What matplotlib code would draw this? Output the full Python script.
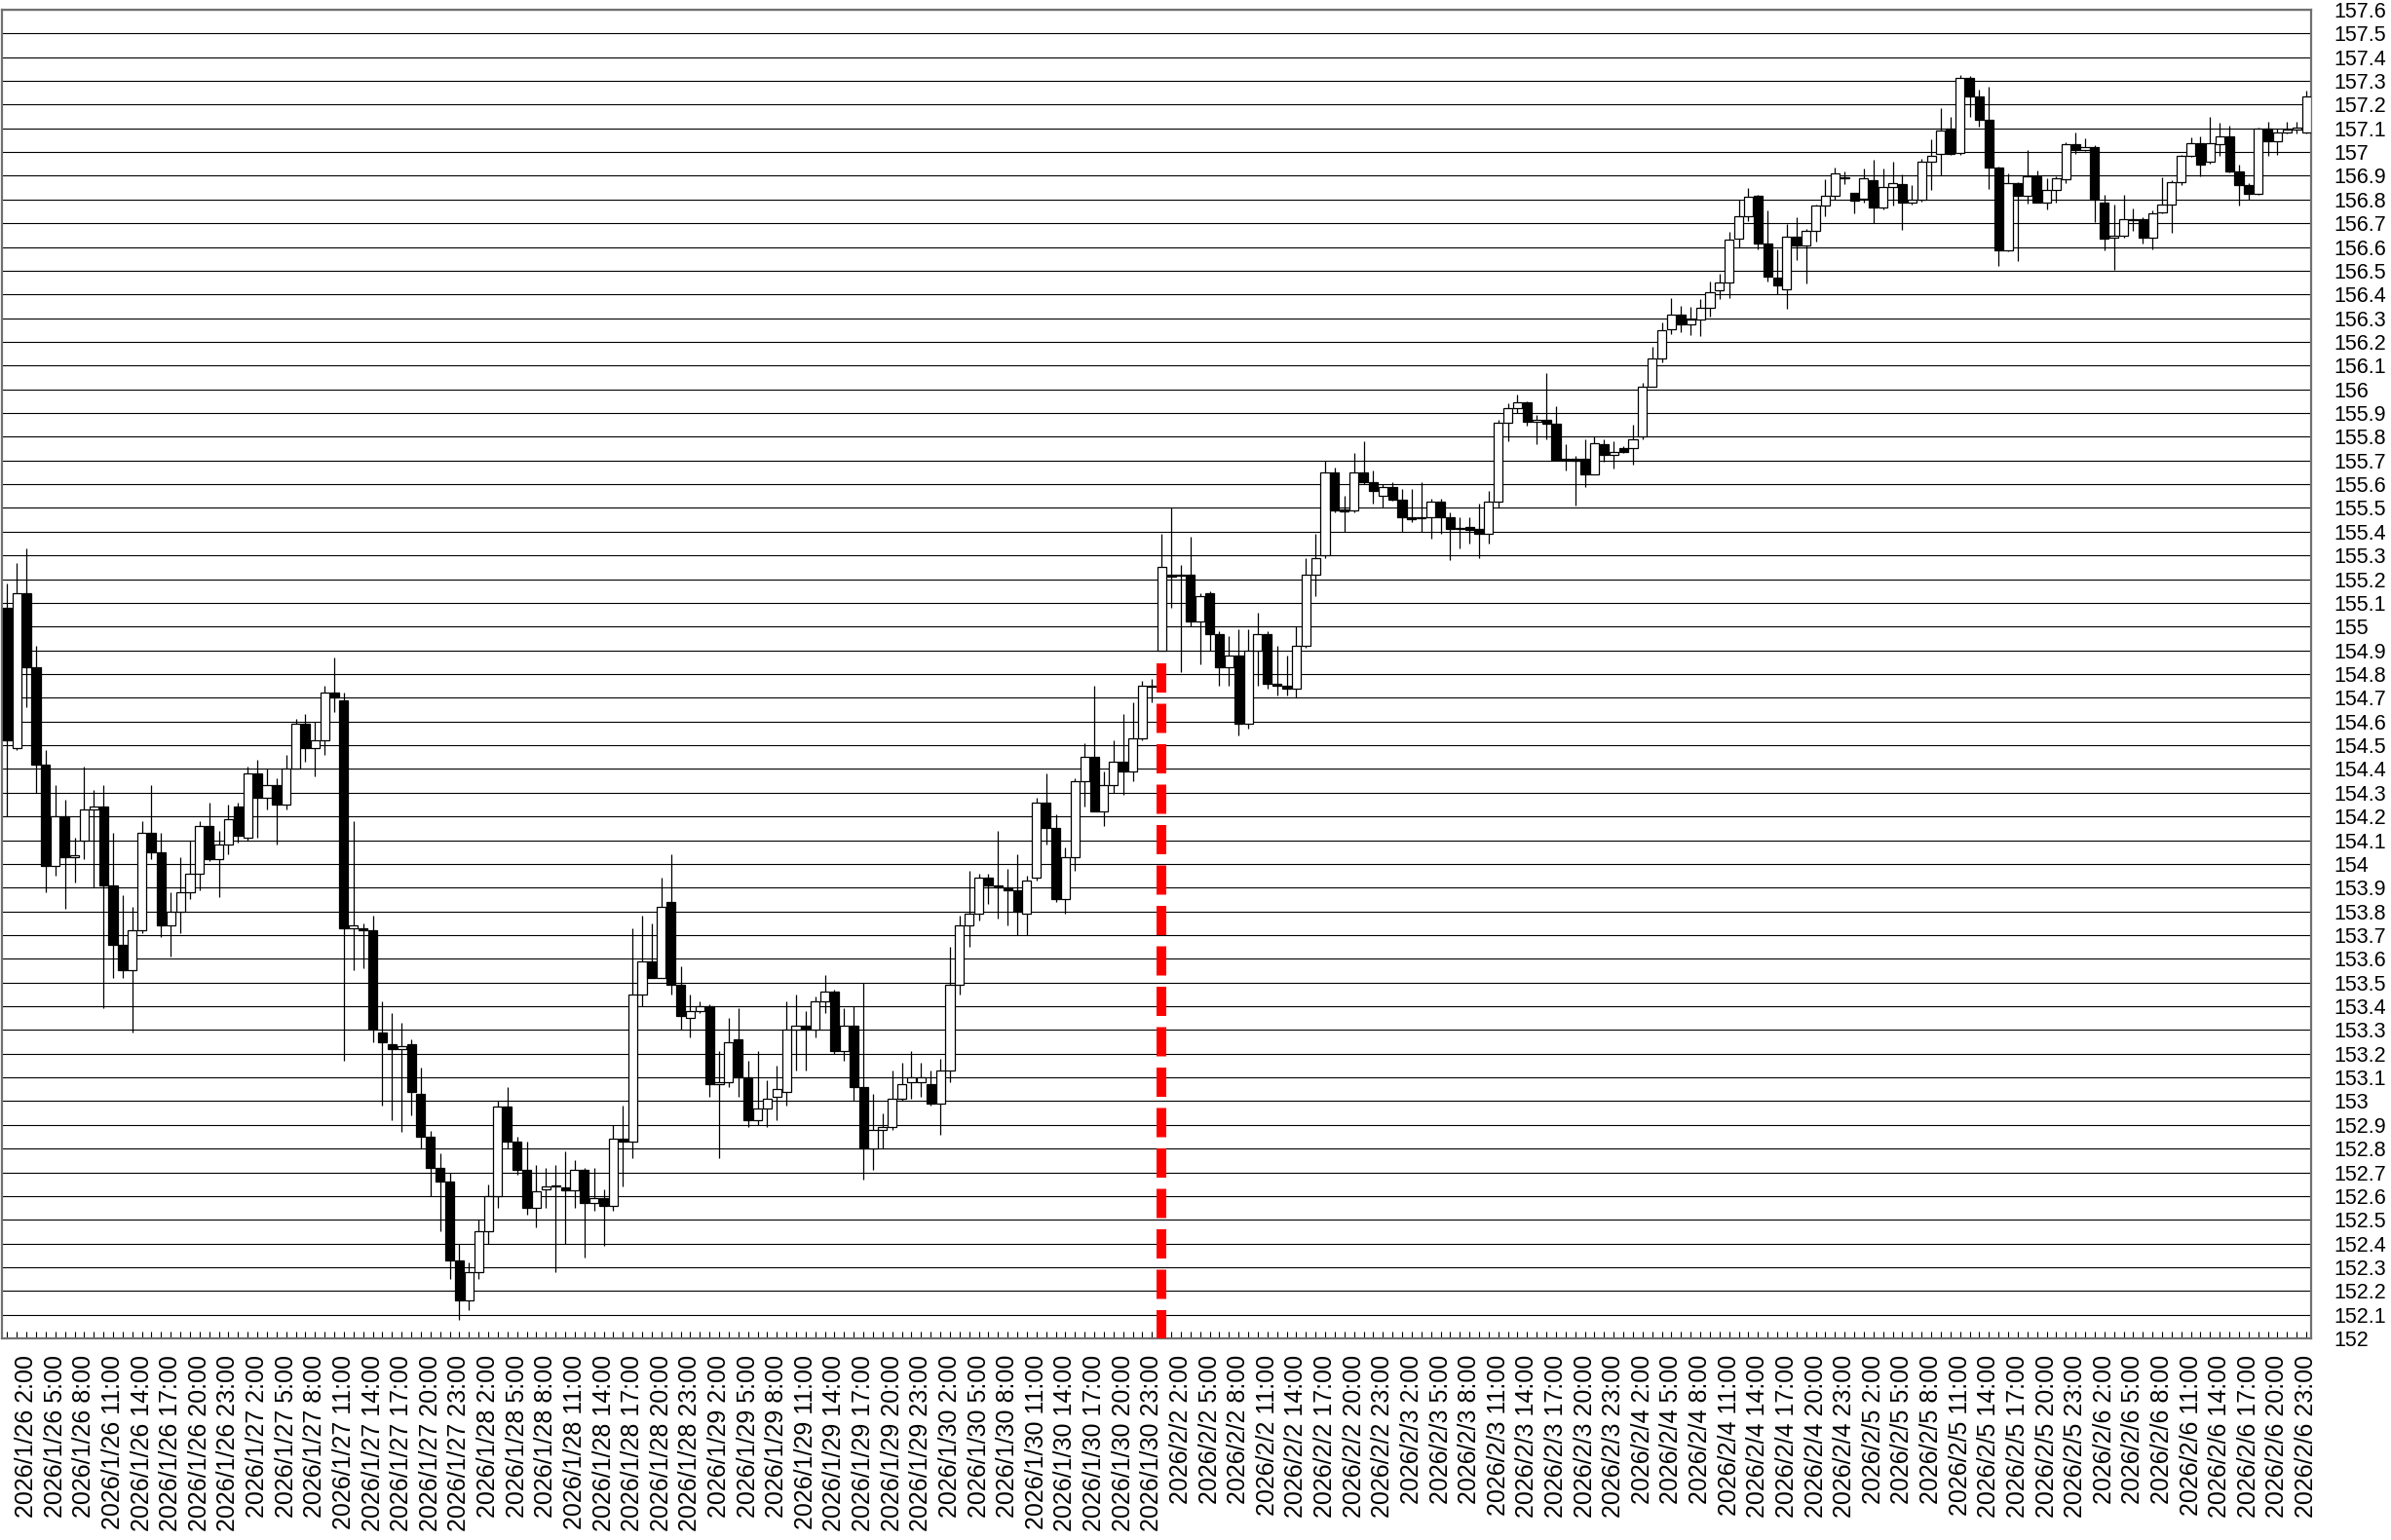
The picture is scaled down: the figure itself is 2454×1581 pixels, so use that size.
import numpy as np
import matplotlib
matplotlib.use('Agg')
import matplotlib.pyplot as plt

plt.rcParams['font.family'] = ['Liberation Sans', 'DejaVu Sans']

# 1時間足 (各日 0:00〜23:00)
days = ['2026/1/26', '2026/1/27', '2026/1/28', '2026/1/29', '2026/1/30',
        '2026/2/2', '2026/2/3', '2026/2/4', '2026/2/5', '2026/2/6']

opens = [
    155.08, 154.49, 155.14, 154.83, 154.42, 153.99, 154.20, 154.03, 154.10, 154.23, 154.24, 153.91,
    153.66, 153.55, 153.72, 154.13, 154.05, 153.74, 153.80, 153.88, 153.96, 154.16, 154.02, 154.08,
    154.24, 154.11, 154.38, 154.28, 154.33, 154.25, 154.40, 154.59, 154.49, 154.52, 154.72, 154.69,
    153.73, 153.73, 153.72, 153.29, 153.24, 153.22, 153.24, 153.03, 152.85, 152.72, 152.66, 152.33,
    152.16, 152.28, 152.45, 152.60, 152.976, 152.83, 152.71, 152.55, 152.63, 152.64, 152.635, 152.625,
    152.71, 152.57, 152.59, 152.56, 152.84, 152.83, 153.45, 153.59, 153.52, 153.84, 153.49, 153.35,
    153.38, 153.40, 153.07, 153.08, 153.26, 153.10, 152.92, 152.97, 153.02, 153.04, 153.30, 153.32,
    153.30, 153.42, 153.46, 153.21, 153.32, 153.06, 152.80, 152.88, 152.89, 153.01, 153.08, 153.08,
    153.07, 152.99, 153.13, 153.49, 153.74, 153.79, 153.94, 153.91, 153.90, 153.89, 153.79, 153.94,
    154.26, 154.15, 153.85, 154.03, 154.35, 154.45, 154.22, 154.33, 154.43, 154.39, 154.53, 154.75,
    154.90, 155.22, 155.215, 155.22, 155.02, 155.14, 154.97, 154.83, 154.88, 154.59, 154.90, 154.97,
    154.76, 154.75, 154.74, 154.92, 155.22, 155.30, 155.65, 155.495, 155.49, 155.65, 155.61, 155.55,
    155.59, 155.535, 155.46, 155.462, 155.46, 155.525, 155.46, 155.41, 155.419, 155.41, 155.39, 155.525,
    155.86, 155.92, 155.944, 155.862, 155.87, 155.855, 155.708, 155.706, 155.706, 155.643, 155.77, 155.722,
    155.752, 155.752, 155.80, 156.012, 156.129, 156.252, 156.313, 156.272, 156.293, 156.343, 156.416, 156.45,
    156.635, 156.73, 156.817, 156.614, 156.471, 156.423, 156.642, 156.607, 156.666, 156.774, 156.815, 156.89,
    156.826, 156.805, 156.88, 156.768, 156.854, 156.867, 156.786, 156.80, 156.96, 156.993, 157.097, 156.996,
    157.314, 157.235, 157.134, 156.935, 156.584, 156.871, 156.816, 156.898, 156.789, 156.839, 156.884, 157.032,
    157.01, 157.023, 156.786, 156.641, 156.648, 156.717, 156.718, 156.639, 156.744, 156.778, 156.873, 156.985,
    157.037, 156.958, 157.034, 157.067, 156.92, 156.862, 156.825, 157.099, 157.047, 157.081, 157.095, 157.081,
]
highs = [
    155.18, 155.27, 155.33, 154.92, 154.48, 154.33, 154.27, 154.11, 154.41, 154.31, 154.33, 154.13,
    153.87, 153.82, 154.18, 154.33, 154.13, 153.88, 154.03, 154.10, 154.18, 154.26, 154.14, 154.25,
    154.26, 154.41, 154.44, 154.40, 154.36, 154.46, 154.61, 154.63, 154.60, 154.75, 154.87, 154.72,
    154.18, 153.75, 153.78, 153.42, 153.37, 153.33, 153.26, 153.14, 152.875, 152.78, 152.70, 152.40,
    152.32, 152.50, 152.65, 153.00, 153.058, 152.85, 152.83, 152.73, 152.72, 152.73, 152.79, 152.75,
    152.72, 152.72, 152.63, 152.90, 152.98, 153.73, 153.78, 153.75, 153.94, 154.04, 153.57, 153.45,
    153.42, 153.41, 153.21, 153.35, 153.39, 153.17, 153.21, 153.09, 153.15, 153.42, 153.45, 153.38,
    153.44, 153.53, 153.47, 153.39, 153.40, 153.50, 153.03, 152.95, 153.13, 153.16, 153.21, 153.16,
    153.13, 153.18, 153.65, 153.78, 153.97, 153.96, 153.96, 154.14, 153.98, 154.04, 153.95, 154.28,
    154.38, 154.21, 154.07, 154.36, 154.51, 154.75, 154.39, 154.52, 154.63, 154.68, 154.77, 154.78,
    155.39, 155.50, 155.26, 155.38, 155.14, 155.15, 154.98, 154.96, 154.99, 154.99, 155.06, 154.98,
    154.92, 154.88, 155.00, 155.29, 155.39, 155.70, 155.67, 155.55, 155.73, 155.78, 155.66, 155.60,
    155.61, 155.58, 155.58, 155.61, 155.54, 155.54, 155.48, 155.46, 155.46, 155.52, 155.57, 155.87,
    155.94, 155.98, 155.95, 155.89, 156.07, 155.93, 155.77, 155.72, 155.79, 155.80, 155.79, 155.78,
    155.76, 155.85, 156.026, 156.18, 156.283, 156.386, 156.352, 156.347, 156.382, 156.453, 156.487, 156.662,
    156.80, 156.85, 156.82, 156.754, 156.59, 156.696, 156.726, 156.676, 156.78, 156.885, 156.936, 156.92,
    156.83, 156.932, 156.969, 156.932, 156.96, 156.908, 156.86, 156.973, 157.055, 157.187, 157.148, 157.325,
    157.32, 157.264, 157.277, 156.94, 156.912, 156.875, 157.007, 156.923, 156.888, 156.898, 157.041, 157.082,
    157.059, 157.03, 156.82, 156.778, 156.819, 156.761, 156.725, 156.755, 156.894, 156.88, 156.99, 157.06,
    157.068, 157.147, 157.122, 157.112, 156.948, 156.87, 157.105, 157.126, 157.099, 157.126, 157.126, 157.259,
]
lows = [
    154.20, 154.48, 154.66, 154.30, 153.88, 153.95, 153.81, 153.92, 154.02, 153.90, 153.39, 153.52,
    153.52, 153.29, 153.71, 154.02, 153.69, 153.61, 153.71, 153.85, 153.89, 154.01, 153.86, 154.04,
    154.09, 154.10, 154.11, 154.23, 154.08, 154.23, 154.40, 154.43, 154.37, 154.46, 154.64, 153.17,
    153.55, 153.56, 153.25, 152.98, 152.92, 152.87, 152.94, 152.80, 152.60, 152.45, 152.25, 152.08,
    152.12, 152.25, 152.40, 152.55, 152.80, 152.69, 152.52, 152.47, 152.55, 152.28, 152.40, 152.55,
    152.34, 152.54, 152.39, 152.54, 152.64, 152.76, 153.40, 153.52, 153.52, 153.45, 153.30, 153.27,
    153.37, 153.02, 152.76, 153.06, 153.02, 152.89, 152.90, 152.89, 152.92, 152.98, 153.13, 153.13,
    153.27, 153.37, 153.20, 153.17, 153.00, 152.67, 152.71, 152.80, 152.88, 153.00, 153.01, 153.02,
    152.98, 152.86, 153.08, 153.45, 153.65, 153.76, 153.83, 153.77, 153.74, 153.70, 153.70, 153.93,
    154.08, 153.84, 153.79, 153.97, 154.24, 154.22, 154.16, 154.30, 154.29, 154.35, 154.52, 154.68,
    154.90, 155.08, 154.81, 155.00, 154.84, 154.90, 154.75, 154.75, 154.54, 154.57, 154.75, 154.74,
    154.71, 154.71, 154.70, 154.91, 155.13, 155.29, 155.48, 155.40, 155.48, 155.60, 155.52, 155.50,
    155.53, 155.40, 155.44, 155.40, 155.37, 155.39, 155.28, 155.33, 155.35, 155.29, 155.35, 155.50,
    155.78, 155.90, 155.845, 155.77, 155.79, 155.70, 155.66, 155.51, 155.59, 155.64, 155.695, 155.666,
    155.73, 155.684, 155.79, 156.01, 156.115, 156.234, 156.242, 156.227, 156.224, 156.306, 156.382, 156.386,
    156.60, 156.707, 156.59, 156.453, 156.402, 156.34, 156.546, 156.447, 156.624, 156.73, 156.80, 156.865,
    156.741, 156.786, 156.70, 156.76, 156.775, 156.673, 156.78, 156.79, 156.84, 156.902, 156.99, 156.99,
    157.15, 157.107, 156.843, 156.519, 156.58, 156.541, 156.782, 156.785, 156.757, 156.785, 156.868, 156.993,
    157.005, 156.703, 156.584, 156.502, 156.64, 156.666, 156.616, 156.588, 156.74, 156.659, 156.86, 156.98,
    156.896, 156.95, 156.982, 156.915, 156.774, 156.80, 156.82, 156.986, 156.989, 157.078, 157.08, 157.078,
]
closes = [
    154.52, 155.14, 154.83, 154.42, 153.99, 154.20, 154.03, 154.035, 154.23, 154.24, 153.91, 153.66,
    153.55, 153.72, 154.13, 154.05, 153.74, 153.80, 153.88, 153.96, 154.16, 154.02, 154.08, 154.19,
    154.12, 154.38, 154.28, 154.33, 154.25, 154.40, 154.59, 154.49, 154.52, 154.72, 154.70, 153.73,
    153.74, 153.72, 153.30, 153.25, 153.22, 153.23, 153.04, 152.85, 152.72, 152.66, 152.33, 152.16,
    152.28, 152.45, 152.60, 152.976, 152.83, 152.71, 152.55, 152.62, 152.64, 152.645, 152.625, 152.71,
    152.57, 152.59, 152.56, 152.84, 152.83, 153.45, 153.59, 153.52, 153.82, 153.49, 153.36, 153.38,
    153.40, 153.07, 153.08, 153.25, 153.10, 152.92, 152.97, 153.01, 153.05, 153.30, 153.32, 153.30,
    153.42, 153.46, 153.21, 153.32, 153.06, 152.80, 152.88, 152.89, 153.01, 153.07, 153.10, 153.10,
    152.99, 153.13, 153.49, 153.74, 153.79, 153.94, 153.91, 153.90, 153.89, 153.80, 153.93, 154.26,
    154.15, 153.85, 154.03, 154.35, 154.45, 154.22, 154.33, 154.43, 154.39, 154.53, 154.75, 154.745,
    155.25, 155.21, 155.22, 155.02, 155.13, 154.97, 154.83, 154.88, 154.59, 154.90, 154.97, 154.76,
    154.75, 154.74, 154.92, 155.22, 155.29, 155.65, 155.49, 155.487, 155.65, 155.61, 155.57, 155.59,
    155.535, 155.46, 155.453, 155.457, 155.525, 155.46, 155.41, 155.416, 155.409, 155.39, 155.525, 155.86,
    155.92, 155.944, 155.862, 155.871, 155.855, 155.704, 155.702, 155.70, 155.643, 155.773, 155.725, 155.736,
    155.736, 155.791, 156.012, 156.129, 156.249, 156.313, 156.272, 156.295, 156.343, 156.409, 156.45, 156.632,
    156.73, 156.81, 156.614, 156.475, 156.439, 156.642, 156.607, 156.666, 156.774, 156.815, 156.912, 156.895,
    156.796, 156.888, 156.768, 156.853, 156.868, 156.786, 156.80, 156.96, 156.985, 157.089, 156.993, 157.314,
    157.235, 157.134, 156.936, 156.584, 156.871, 156.816, 156.898, 156.789, 156.839, 156.888, 157.034, 157.01,
    157.023, 156.80, 156.635, 156.648, 156.717, 156.714, 156.639, 156.741, 156.778, 156.873, 156.985, 157.037,
    156.948, 157.037, 157.067, 156.92, 156.859, 156.825, 157.099, 157.047, 157.081, 157.095, 157.103, 157.236,
]

week_break = 120          # 2026/2/2 0:00
prev_week_level = 154.845  # 赤い点線の上端

o = np.array(opens)
h = np.array(highs)
l = np.array(lows)
c = np.array(closes)
x = np.arange(len(o))

fig = plt.figure(figsize=(24.54, 15.81), dpi=100)
ax = fig.add_axes([0.0008, 0.1309, 0.9658, 0.8628])

# ヒゲ
ax.vlines(x, l, h, color='black', lw=0.9, zorder=2)
# 実体
up = c >= o
body_lo = np.minimum(o, c)
body_h = np.abs(c - o)
ax.bar(x, body_h, 0.92, body_lo, color=np.where(up, 'white', 'black'),
       edgecolor='black', linewidth=0.9, zorder=3)

# 週の区切り
ax.plot([week_break, week_break], [prev_week_level, 152.0], color='red', lw=7.2,
        dashes=(3.0, 1.15), dash_capstyle='butt', zorder=4)

ax.set_xlim(-0.55, 239.5)
ax.set_ylim(152, 157.6)

yt = np.round(np.arange(152, 157.65, 0.1), 1)
ax.set_yticks(yt)
ax.set_yticklabels([f'{v:g}' for v in yt])
ax.yaxis.tick_right()
ax.tick_params(axis='y', length=0, pad=17, labelsize=15.5)
ax.grid(axis='y', color='black', lw=0.8)
ax.set_axisbelow(True)

labels = [f'{days[i // 24]} {i % 24}:00' if i % 3 == 2 else '' for i in x]
ax.set_xticks(x)
ax.set_xticklabels(labels, rotation=90)
ax.tick_params(axis='x', direction='in', length=5, width=0.8, pad=12, labelsize=18)

for s in ax.spines.values():
    s.set_color('#707070')
    s.set_linewidth(1.6)

fig.savefig('out.png', dpi=100)
